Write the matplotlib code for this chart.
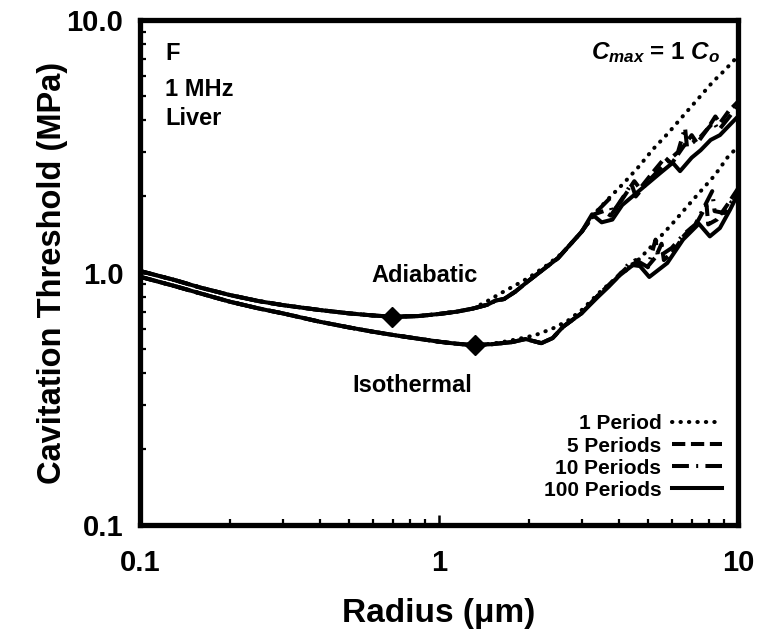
import numpy as np
import matplotlib
matplotlib.use("Agg")
import matplotlib.pyplot as plt
from matplotlib.ticker import NullFormatter, LogLocator

plt.rcParams['font.family'] = ['Liberation Sans', 'DejaVu Sans']
plt.rcParams['font.weight'] = 'bold'
plt.rcParams['mathtext.fontset'] = 'custom'
plt.rcParams['mathtext.rm'] = 'Liberation Sans:bold'
plt.rcParams['mathtext.it'] = 'Liberation Sans:italic:bold'
plt.rcParams['mathtext.bf'] = 'Liberation Sans:bold'

# ---------------- data ----------------
# shared part (all pulse lengths coincide at small radii)
radius_common = [0.1, 0.13, 0.16, 0.2, 0.25, 0.3, 0.4, 0.5, 0.6, 0.7, 0.85, 1.0, 1.15]
adiabatic_common = [1.014, 0.935, 0.87, 0.814, 0.77, 0.743, 0.71, 0.689, 0.676, 0.668, 0.672, 0.685, 0.70]
isothermal_common = [0.962, 0.885, 0.825, 0.766, 0.72, 0.689, 0.638, 0.606, 0.583, 0.566, 0.547, 0.532, 0.522]

# adiabatic tails
adia_r_1 = [1.3, 1.45, 1.6, 1.8, 2.0, 2.3, 2.6, 3.0, 3.4, 3.75, 4.15, 4.65, 5.2, 5.85, 6.55, 7.35, 8.25, 9.0, 10.0]
adia_p_1 = [0.72, 0.77, 0.825, 0.89, 0.955, 1.07, 1.2, 1.45, 1.77, 2.0, 2.26, 2.62, 3.08, 3.57, 4.17, 4.87, 5.7, 6.3, 7.2]

adia_r_5 = [1.3, 1.45, 1.55, 1.65, 1.8, 2.0, 2.5, 3.0, 3.3, 3.55, 3.75, 4.1, 4.5, 4.7, 5.2, 5.7, 6.0, 6.5, 7.0, 7.3, 7.9, 8.4, 8.7, 9.3, 10.0]
adia_p_5 = [0.72, 0.745, 0.775, 0.785, 0.84, 0.93, 1.14, 1.45, 1.70, 1.75, 1.68, 1.95, 2.30, 2.15, 2.50, 2.85, 2.70, 3.10, 3.50, 3.25, 3.70, 4.15, 3.90, 4.35, 4.75]

adia_r_10 = [1.3, 1.45, 1.55, 1.65, 1.8, 2.0, 2.5, 3.0, 3.3, 3.7, 3.8, 4.2, 4.4, 4.55, 5.1, 5.7, 6.3, 6.65, 6.75, 7.5, 8.3, 8.6, 9.3, 10.0]
adia_p_10 = [0.72, 0.745, 0.775, 0.785, 0.84, 0.93, 1.14, 1.45, 1.70, 1.95, 1.72, 2.05, 2.25, 2.0, 2.35, 2.70, 3.0, 3.75, 3.15, 3.45, 3.95, 3.65, 4.1, 4.6]

adia_r_100 = [1.3, 1.45, 1.55, 1.65, 1.8, 2.0, 2.5, 3.0, 3.25, 3.5, 3.8, 4.1, 4.7, 5.5, 6.05, 6.4, 7.0, 7.5, 8.1, 8.7, 9.2, 10.0]
adia_p_100 = [0.72, 0.745, 0.775, 0.785, 0.84, 0.93, 1.14, 1.45, 1.70, 1.58, 1.62, 1.85, 2.12, 2.48, 2.72, 2.52, 2.85, 3.05, 3.35, 3.50, 3.75, 4.15]

# isothermal tails
iso_r_1 = [1.3, 1.5, 1.7, 1.9, 2.1, 2.4, 2.7, 3.0, 3.5, 4.0, 4.5, 5.07, 6.0, 7.07, 8.37, 9.25, 10.0]
iso_p_1 = [0.516, 0.522, 0.535, 0.55, 0.565, 0.60, 0.645, 0.71, 0.85, 0.97, 1.08, 1.25, 1.55, 1.94, 2.43, 2.87, 3.15]

iso_r_5 = [1.3, 1.5, 1.75, 1.95, 2.2, 2.4, 2.6, 3.0, 3.4, 3.9, 4.3, 4.6, 4.9, 5.3, 5.55, 5.65, 6.1, 6.6, 7.3, 7.85, 7.95, 8.5, 9.2, 10.0]
iso_p_5 = [0.516, 0.52, 0.53, 0.545, 0.525, 0.55, 0.61, 0.69, 0.81, 0.95, 1.06, 1.10, 1.03, 1.15, 1.30, 1.12, 1.22, 1.40, 1.58, 1.85, 1.55, 1.62, 1.85, 2.15]

iso_r_10 = [1.3, 1.5, 1.75, 1.95, 2.2, 2.4, 2.6, 3.0, 3.4, 3.9, 4.3, 4.55, 5.0, 5.3, 5.4, 6.0, 6.6, 7.2, 8.2, 8.35, 9.0, 9.5, 10.0]
iso_p_10 = [0.516, 0.52, 0.53, 0.545, 0.525, 0.55, 0.61, 0.69, 0.81, 0.94, 1.08, 1.12, 1.05, 1.35, 1.15, 1.25, 1.42, 1.55, 2.1, 1.75, 1.72, 1.9, 1.95]

iso_r_100 = [1.3, 1.5, 1.75, 1.95, 2.2, 2.4, 2.6, 3.0, 3.4, 3.7, 4.0, 4.45, 4.7, 5.05, 5.8, 6.55, 7.4, 8.05, 8.7, 9.4, 10.0]
iso_p_100 = [0.516, 0.52, 0.53, 0.545, 0.525, 0.55, 0.61, 0.69, 0.80, 0.88, 0.97, 1.07, 1.06, 0.96, 1.09, 1.35, 1.56, 1.39, 1.50, 1.77, 2.05]

# threshold minima (diamonds)
minima_radius = [0.695, 1.32]
minima_pressure = [0.668, 0.516]

series_labels = ['1 Period', '5 Periods', '10 Periods', '100 Periods']
x_ticks = [0.1, 1, 10]
x_tick_labels = ['0.1', '1', '10']
y_ticks = [0.1, 1, 10]
y_tick_labels = ['0.1', '1.0', '10.0']

# ---------------- figure ----------------
W, H = 762, 644
fig = plt.figure(figsize=(W / 100, H / 100), dpi=100)
ax = fig.add_axes([140 / W, 119 / H, 598 / W, 505 / H])
ax.set_xscale('log')
ax.set_yscale('log')
ax.set_xlim(0.1, 10)
ax.set_ylim(0.1, 10)

lw = 2.9
styles = [
    dict(linestyle=(0, (0.1, 2.0)), dash_capstyle='round'),
    dict(linestyle=(0, (3.3, 1.4))),
    dict(linestyle=(0, (4.2, 1.8, 0.5, 1.8))),
    dict(linestyle='-'),
]
adia = [(adia_r_1, adia_p_1), (adia_r_5, adia_p_5), (adia_r_10, adia_p_10), (adia_r_100, adia_p_100)]
iso = [(iso_r_1, iso_p_1), (iso_r_5, iso_p_5), (iso_r_10, iso_p_10), (iso_r_100, iso_p_100)]

handles = []
for (ra, pa), (ri, pi), st, lab in zip(adia, iso, styles, series_labels):
    h, = ax.plot(radius_common + ra, adiabatic_common + pa, color='black', lw=lw, label=lab, **st)
    ax.plot(radius_common + ri, isothermal_common + pi, color='black', lw=lw, **st)
    handles.append(h)

ax.plot(minima_radius, minima_pressure, linestyle='none', marker='D', ms=10,
        color='black', mec='black', zorder=5)

# axes styling
for s in ax.spines.values():
    s.set_linewidth(3.8)
ax.set_xticks(x_ticks, labels=x_tick_labels)
ax.set_yticks(y_ticks, labels=y_tick_labels)
ax.xaxis.set_minor_locator(LogLocator(base=10, subs=np.arange(2, 10)))
ax.yaxis.set_minor_locator(LogLocator(base=10, subs=np.arange(2, 10)))
ax.xaxis.set_minor_formatter(NullFormatter())
ax.yaxis.set_minor_formatter(NullFormatter())
ax.tick_params(which='major', direction='in', length=7.5, width=1.8, labelsize=21,
               top=False, right=False)
ax.tick_params(which='minor', direction='in', length=4.5, width=1.6, top=False, right=False)
ax.tick_params(axis='y', which='major', pad=12)
ax.tick_params(axis='x', which='major', pad=17)
for lab in ax.get_xticklabels() + ax.get_yticklabels():
    lab.set_fontweight('bold')

ax.set_xlabel('Radius (μm)', fontsize=24, fontweight='bold')
ax.set_ylabel('Cavitation Threshold (MPa)', fontsize=23.5, fontweight='bold')
ax.xaxis.set_label_coords(0.5, -0.145)
ax.yaxis.set_label_coords(-0.12, 0.5)

# annotations
ax.text(0.042, 0.956, 'F', transform=ax.transAxes, fontsize=17, fontweight='bold', va='top', ha='left')
ax.text(0.042, 0.885, '1 MHz', transform=ax.transAxes, fontsize=17, fontweight='bold', va='top', ha='left')
ax.text(0.042, 0.828, 'Liver', transform=ax.transAxes, fontsize=17, fontweight='bold', va='top', ha='left')
ax.text(0.4766, 0.481, 'Adiabatic', transform=ax.transAxes, fontsize=17, fontweight='bold',
        ha='center', va='baseline')
ax.text(0.455, 0.263, 'Isothermal', transform=ax.transAxes, fontsize=17, fontweight='bold',
        ha='center', va='baseline')
ax.text(0.970, 0.960, r'$C_{max}$ = 1 $C_o$', transform=ax.transAxes, fontsize=17.5,
        fontweight='bold', ha='right', va='top')

leg = ax.legend(handles, series_labels, loc='lower right', bbox_to_anchor=(0.973, 0.05),
                frameon=False, markerfirst=False, prop={'size': 15, 'weight': 'bold'},
                handlelength=2.4, handletextpad=0.5, labelspacing=0.15,
                borderpad=0, borderaxespad=0)

fig.savefig('out.png', dpi=100)
